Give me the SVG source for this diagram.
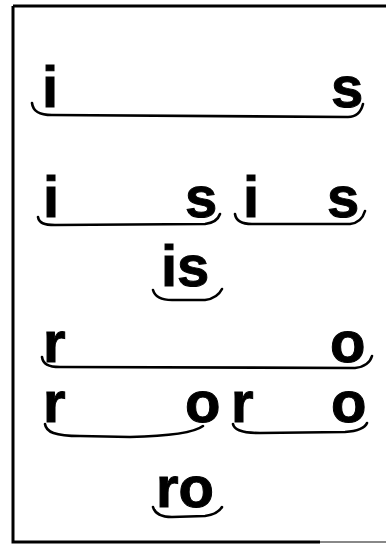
<svg xmlns="http://www.w3.org/2000/svg" width="386" height="545" viewBox="0 0 386 545">
<style>
.t{font-family:"Liberation Sans",Arial,sans-serif;font-weight:bold;font-size:58px;fill:#000;stroke:#000;stroke-width:1}
.b{fill:none;stroke:#000;stroke-width:2.6;stroke-linecap:round;stroke-linejoin:round}
.f{fill:none;stroke:#000;stroke-width:3}
</style>
<rect width="386" height="545" fill="#fff"/>
<g id="frame">
<path class="f" d="M13,6 L386,6 M13,6 L13,542 L320,542"/>
<path d="M320,542 L386,542" stroke="#888" stroke-width="2" fill="none"/>
</g>
<g id="row1">
<text class="t" x="42" y="107">i</text>
<text class="t" x="331" y="107">s</text>
</g>
<g id="row2">
<text class="t" x="43" y="217">i</text>
<text class="t" x="185" y="217">s</text>
<text class="t" x="243" y="217">i</text>
<text class="t" x="327" y="217">s</text>
</g>
<g id="is">
<text class="t" x="161" y="286">is</text>
</g>
<g id="row3">
<text class="t" x="43" y="362">r</text>
<text class="t" x="330" y="362">o</text>
</g>
<g id="row4">
<text class="t" x="43" y="422">r</text>
<text class="t" x="185" y="422">o</text>
<text class="t" x="231" y="422">r</text>
<text class="t" x="331" y="422">o</text>
</g>
<g id="ro">
<text class="t" x="156" y="507">ro</text>
</g>
<g id="connectors">
<path class="b" d="M32,103 C33,112 40,115 52,115 L348,117 C356,117 361,112 363,104"/>
<path class="b" d="M38,217 C39,223 44,225 55,225 L205,224 C213,223 218,220 220,214"/>
<path class="b" d="M235,214 C236,221 242,224 252,224 L350,224 C358,223 363,218 365,211"/>
<path class="b" d="M153,290 C155,297 162,300 172,300 L205,300 C213,299 219,295 222,289"/>
<path class="b" d="M42,357 C43,364 48,367 60,367 L355,368 C364,367 370,363 372,356"/>
<path class="b" d="M45,424 C46,432 55,436 80,436 L130,437 C175,436 195,432 203,426"/>
<path class="b" d="M233,424 C234,430 242,433 260,433 L345,432 C358,431 365,428 367,423"/>
<path class="b" d="M153,507 C155,514 162,517 172,517 L205,516 C213,515 219,512 222,507"/>
</g>
</svg>
